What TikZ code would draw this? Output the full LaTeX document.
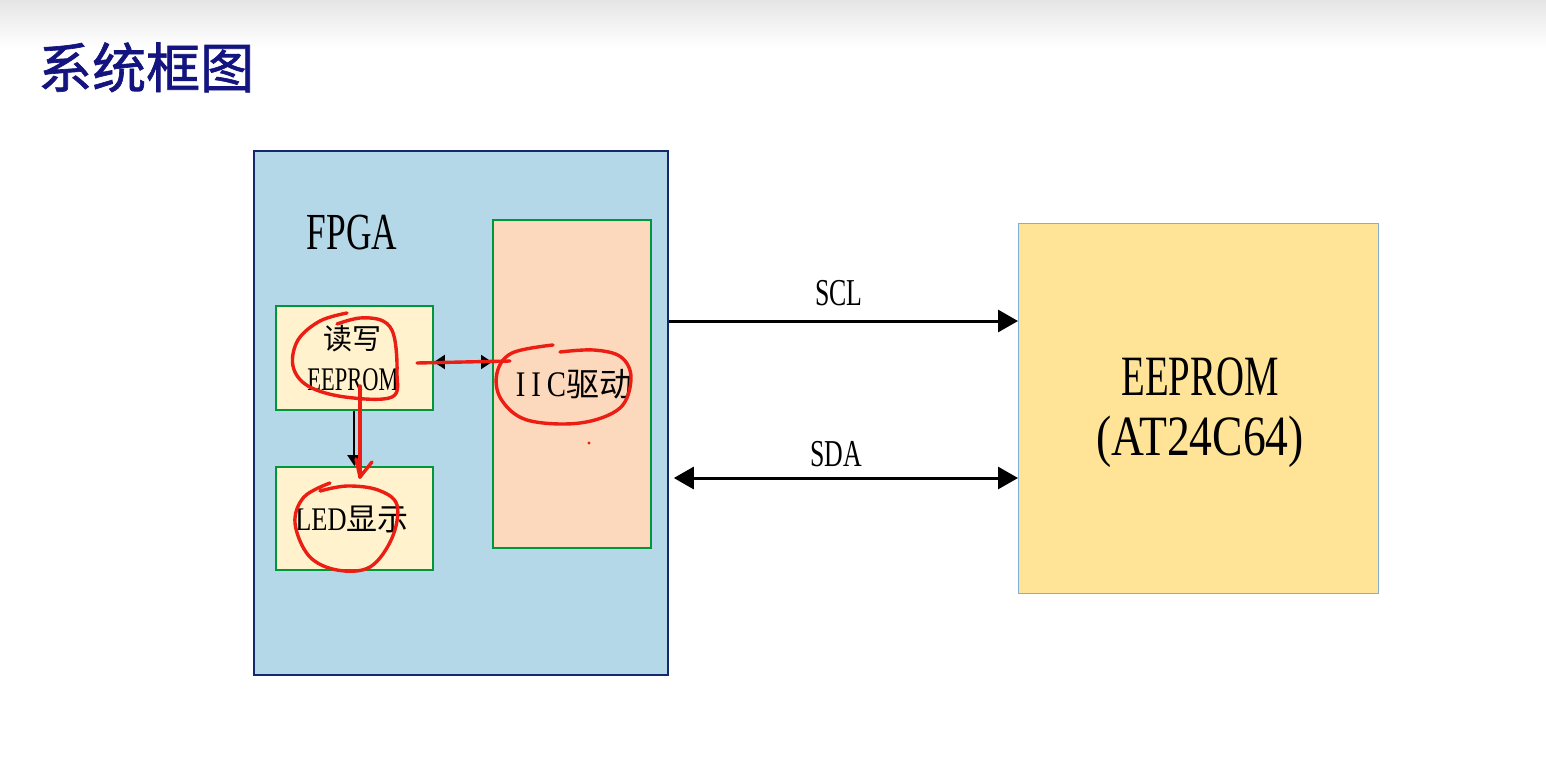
\documentclass[tikz,border=0pt]{standalone}
\usepackage{fontspec}
\usetikzlibrary{arrows.meta}
\setmainfont{Liberation Serif}
\newfontfamily\lat{Liberation Serif}[FakeStretch=0.68]
\newfontfamily\latw{Liberation Serif}[FakeStretch=0.8]
\newfontfamily\cjk{Noto Sans CJK SC}
\newfontfamily\cjkb{Noto Sans CJK SC}[FakeBold=1.2]
\definecolor{fpgafill}{RGB}{180,216,232}
\definecolor{fpgaline}{RGB}{20,40,110}
\definecolor{cream}{RGB}{255,242,204}
\definecolor{peach}{RGB}{252,216,188}
\definecolor{boxgreen}{RGB}{0,150,60}
\definecolor{eepfill}{RGB}{255,228,152}
\definecolor{eepline}{RGB}{130,176,210}
\definecolor{titlecol}{RGB}{20,20,128}
\definecolor{pen}{RGB}{236,30,20}
\tikzset{
  blk/.style={rectangle, inner sep=0pt, anchor=north west},
  fpgabox/.style={blk, fill=fpgafill, draw=fpgaline, line width=1.8pt},
  modbox/.style={blk, draw=boxgreen, line width=1.8pt},
  eepbox/.style={blk, fill=eepfill, draw=eepline, line width=1pt},
  lbl/.style={inner sep=0pt, anchor=base, text=black},
  bigarrow/.style={line width=3pt, arrows={-Triangle[length=20pt,width=22pt]}},
  bigbiarrow/.style={line width=3pt, arrows={Triangle[length=20pt,width=22pt]-Triangle[length=20pt,width=22pt]}},
  smallarrow/.style={line width=2pt, arrows={-Triangle[length=11pt,width=14pt]}},
  smallbiarrow/.style={line width=2pt, arrows={Triangle[length=11pt,width=14pt]-Triangle[length=11pt,width=14pt]}},
  redpen/.style={draw=pen, line width=3.4pt, line cap=round, line join=round}
}
\begin{document}
\begin{tikzpicture}[x=1pt,y=-1pt]
\useasboundingbox (0,0) rectangle (1546,766);
\fill[white] (0,0) rectangle (1546,766);
\shade[top color=black!10, bottom color=white] (0,0) rectangle (1546,48);
% title
\node[inner sep=0pt, anchor=base west, text=titlecol, font={\cjkb\fontsize{54}{58}\selectfont}] (title) at (38,88) {系统框图};
% boxes
\node[fpgabox, minimum width=414pt, minimum height=524pt] (fpga) at (253,150) {};
\node[modbox, fill=cream, minimum width=157pt, minimum height=104pt] (rw) at (275,305) {};
\node[modbox, fill=cream, minimum width=157pt, minimum height=103pt] (led) at (275,466) {};
\node[modbox, fill=peach, minimum width=158pt, minimum height=328pt] (iic) at (492,219) {};
\node[eepbox, minimum width=360pt, minimum height=370pt] (eep) at (1018,223) {};
% labels
\node[lbl, font={\lat\fontsize{52}{56}\selectfont}] (fpgalbl) at (352,249) {FPGA};
\node[lbl, font={\cjk\fontsize{29}{32}\selectfont}] (rwlbl1) at (352,349) {读写};
\node[lbl, font={\lat\fontsize{33}{36}\selectfont}] (rwlbl2) at (353,390) {EEPROM};
\node[lbl] (ledlbl) at (352,530) {{\latw\fontsize{33}{36}\selectfont LED}{\cjk\fontsize{31}{34}\selectfont 显示}};
\node[lbl] (iiclbl) at (574,396) {{\latw\fontsize{36}{40}\selectfont I\,I\,C}{\cjk\fontsize{33}{36}\selectfont 驱动}};
\node[lbl, font={\lat\fontsize{57}{62}\selectfont}] (eeplbl1) at (1200,395) {EEPROM};
\node[lbl, font={\latw\fontsize{57}{62}\selectfont}] (eeplbl2) at (1200,455) {(AT24C64)};
\node[lbl, font={\lat\fontsize{38}{42}\selectfont}] (scllbl) at (839,305) {SCL};
\node[lbl, font={\lat\fontsize{38}{42}\selectfont}] (sdalbl) at (836,466) {SDA};
% connectors
\coordinate (sclY) at (0,321);
\coordinate (sdaY) at (0,478);
\coordinate (busY) at (0,362);
\draw[bigarrow] (fpga.east |- sclY) -- (eep.west |- sclY);
\draw[bigbiarrow] ([xshift=5pt]fpga.east |- sdaY) -- (eep.west |- sdaY);
\draw[smallbiarrow] (rw.east |- busY) -- (iic.west |- busY);
\draw[smallarrow] ([xshift=0pt]rw.south) -- (led.north);
% red pen annotations
\draw[redpen] plot[smooth, tension=0.6] coordinates {(347,313) (320,321) (298,340) (293,366) (308,386) (345,397) (392,397) (397,372) (394,336) (383,321) (360,318) (337,324)};
\draw[redpen] (417,363) -- (510,361);
\draw[redpen] (360,386) -- (360,477);
\draw[redpen] (356,459) -- (360,477) -- (372,462);
\draw[redpen] plot[smooth, tension=0.6] coordinates {(553,345) (512,353) (497,373) (501,399) (527,420) (580,423) (620,408) (631,378) (621,357) (594,350) (560,352)};
\draw[redpen] plot[smooth, tension=0.6] coordinates {(330,483) (304,497) (295,523) (309,556) (337,570) (370,567) (392,538) (397,505) (378,490) (347,486) (320,491)};
\fill[pen] (589,443) circle (1.6pt);
\end{tikzpicture}
\end{document}
